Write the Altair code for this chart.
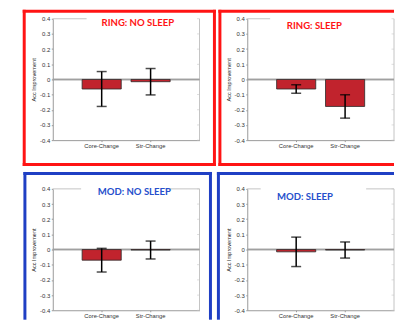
import altair as alt
import pandas as pd

# ---------------- data ----------------
panel_titles = ["RING: NO SLEEP", "RING: SLEEP", "MOD: NO SLEEP", "MOD: SLEEP"]
categories = ["Core-Change", "Str-Change"]

mean_ring_nosleep = [-0.063, -0.015]
err_ring_nosleep = [0.115, 0.087]
mean_ring_sleep = [-0.063, -0.178]
err_ring_sleep = [0.028, 0.077]
mean_mod_nosleep = [-0.070, -0.003]
err_mod_nosleep = [0.078, 0.059]
mean_mod_sleep = [-0.015, -0.003]
err_mod_sleep = [0.097, 0.053]

y_ticks = [-0.4, -0.3, -0.2, -0.1, 0.0, 0.1, 0.2, 0.3, 0.4]
y_title = "Acc Improvement"

means = [mean_ring_nosleep, mean_ring_sleep, mean_mod_nosleep, mean_mod_sleep]
errs = [err_ring_nosleep, err_ring_sleep, err_mod_nosleep, err_mod_sleep]

# ---------------- layout / style ----------------
W, H = 147.5, 122
RED = "#ff1414"
BLUE = "#1f3fc4"
TITLE_BLUE = "#2650cc"
panel_color = [RED, RED, BLUE, BLUE]
title_color = [RED, RED, TITLE_BLUE, TITLE_BLUE]
# border sides (line centres, px relative to the plot area): (x, x2, y, y2)
border_lines = [
    [(-28.7, -28.7, -7.5, 146.5), (162.5, 162.5, -7.5, 146.5),
     (-28.7, 162.5, -7.5, -7.5), (-28.7, 162.5, 146.5, 146.5)],
    [(-27.5, -27.5, -7.5, 146.5), (-27.5, W - 1.5, -7.5, -7.5),
     (-27.5, W - 1.5, 146.5, 146.5)],
    [(-28.0, -28.0, -15.5, 130.0), (158.5, 158.5, -15.5, 130.0),
     (-28.0, 158.5, -15.5, -15.5)],
    [(-29.0, -29.0, -15.5, 130.0), (-29.0, W - 1.5, -15.5, -15.5)],
]
title_pos = [(85.5, 4.7), (67.5, 7.3), (82, 3.4), (58, 8.4)]
top_segments = [[(0, 34)], [(0, 23)], [(0, 28.5), (112.5, W)], [(0, 13.5), (119.5, W)]]

BAR_FILL = "#c1232d"
FRAME = "#9a9a9a"
FRAME_LIGHT = "#c4c4c4"
FONT = "Liberation Sans"

label_expr = ("datum.value == 0 ? '0' : (datum.value < 0 ? '-' : '') + "
              "format(abs(datum.value), '.1f')")

one_row = alt.Data(values=[{"k": 1}])
tick_df = pd.DataFrame({"t": y_ticks})

x_axis = alt.Axis(title=None, labelAngle=0, labelFontSize=5.8, labelFont=FONT,
                  labelColor="#333", domainColor=FRAME, tickColor=FRAME,
                  tickSize=1.5, labelPadding=1, grid=False)
y_axis = alt.Axis(title=y_title, titleFontSize=5.6, titleFont=FONT,
                  titleFontWeight="normal", titleColor="#222", titlePadding=3,
                  values=y_ticks, labelExpr=label_expr, labelFontSize=6,
                  labelFont=FONT, labelColor="#333", domainColor=FRAME,
                  tickColor=FRAME, tickSize=1.5, labelPadding=1.5, grid=False)


def make_panel(i):
    df = pd.DataFrame({"category": categories, "mean": means[i], "err": errs[i]})
    df["lo"] = df["mean"] - df["err"]
    df["hi"] = df["mean"] + df["err"]
    base = alt.Chart(df)

    yscale = alt.Scale(domain=[-0.4, 0.4], nice=False)
    xscale = alt.Scale(domain=categories, paddingInner=0.2, paddingOuter=0.6)
    X = alt.X("category:N", scale=xscale, axis=x_axis)

    bars = base.mark_bar(color=BAR_FILL, stroke="#2a2a2a", strokeWidth=0.8).encode(
        x=X, y=alt.Y("mean:Q", scale=yscale, axis=y_axis))
    baseline = base.mark_rule(color="#a0a0a0", strokeWidth=1.5).encode(
        y=alt.YDatum(0, scale=yscale, axis=y_axis))
    err_line = base.mark_rule(color="black", strokeWidth=1.5).encode(
        x=X, y=alt.Y("lo:Q", scale=yscale, axis=y_axis), y2="hi:Q")
    cap_lo = base.mark_tick(color="black", size=10, thickness=1.5,
                            orient="horizontal").encode(
        x=X, y=alt.Y("lo:Q", scale=yscale, axis=y_axis))
    cap_hi = base.mark_tick(color="black", size=10, thickness=1.5,
                            orient="horizontal").encode(
        x=X, y=alt.Y("hi:Q", scale=yscale, axis=y_axis))

    right_frame = alt.Chart(one_row).mark_rule(color=FRAME_LIGHT, strokeWidth=1).encode(
        x=alt.value(W), y=alt.value(0), y2=alt.value(H))
    right_ticks = alt.Chart(tick_df).mark_tick(
        color=FRAME_LIGHT, size=2.5, thickness=0.8, orient="horizontal").encode(
        x=alt.value(W - 1.25), y=alt.Y("t:Q", scale=yscale, axis=y_axis))

    segs = []
    for (a, b) in top_segments[i]:
        segs.append(alt.Chart(one_row).mark_rule(color=FRAME_LIGHT, strokeWidth=1).encode(
            x=alt.value(a), x2=alt.value(b), y=alt.value(0)))

    border = []
    for (bx, bx2, by, by2) in border_lines[i]:
        enc = dict(x=alt.value(bx), y=alt.value(by))
        if bx2 != bx:
            enc["x2"] = alt.value(bx2)
        if by2 != by:
            enc["y2"] = alt.value(by2)
        border.append(alt.Chart(one_row).mark_rule(
            color=panel_color[i], strokeWidth=3, strokeCap="square").encode(**enc))

    tx, ty = title_pos[i]
    title = alt.Chart(one_row).mark_text(
        font="Lato", fontWeight="bold", fontSize=9.6, color=title_color[i],
        align="center", baseline="middle"
    ).encode(x=alt.value(tx), y=alt.value(ty), text=alt.value(panel_titles[i]))

    layers = border + segs + [right_frame, right_ticks, baseline,
                              bars, err_line, cap_lo, cap_hi, title]
    return alt.layer(*layers).properties(width=W, height=H)


chart = alt.concat(
    *[make_panel(i) for i in range(4)],
    columns=2,
    spacing={"row": 49, "column": 47.5},
    bounds="flush",
).properties(
    padding={"left": 14, "top": 0, "right": 0, "bottom": 0}
).configure_view(stroke=None)

chart.save("out.html", embed_options={"renderer": "svg", "actions": False})
